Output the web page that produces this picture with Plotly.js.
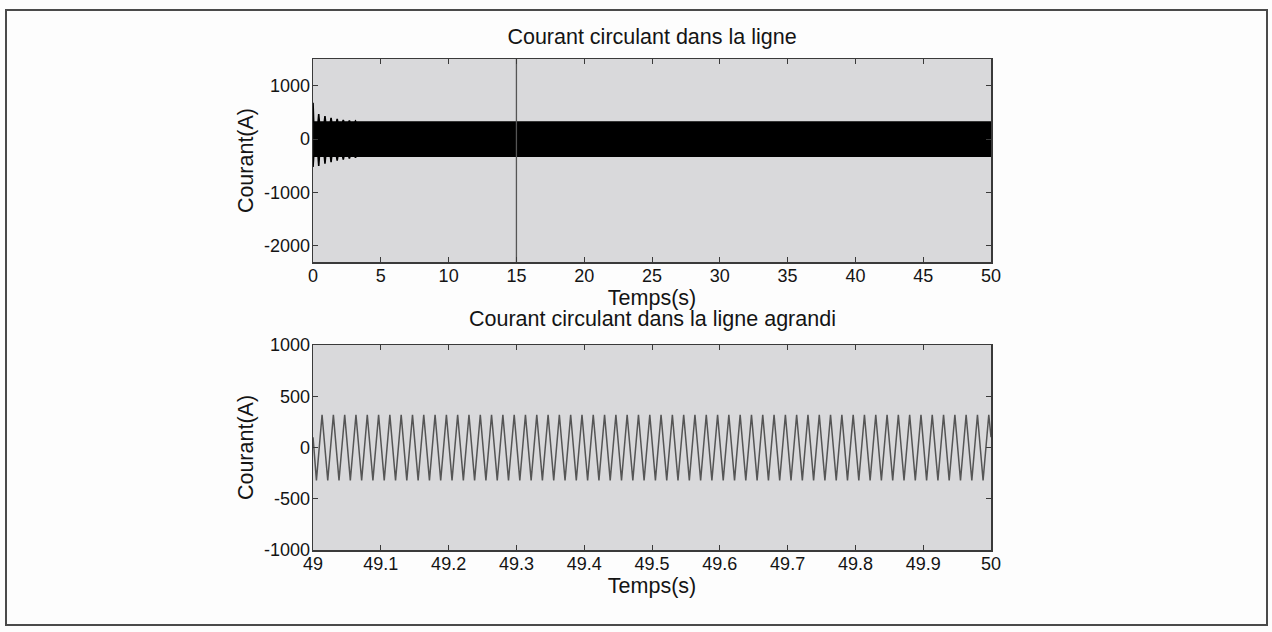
<!DOCTYPE html>
<html>
<head>
<meta charset="utf-8">
<script src="https://cdn.plot.ly/plotly-3.0.1.min.js"></script>
<style>body{margin:0;background:#fff;} #chart{width:1272px;height:632px;}</style>
</head>
<body>
<div id="chart"></div>
<script>
// ---- Top plot: envelope of the 60 Hz current over 0..50 s ----
var envT  = [0, 0.05, 0.37, 0.42, 0.47, 0.83, 0.88, 0.93, 1.28, 1.33, 1.38, 1.73, 1.78, 1.83, 2.18, 2.23, 2.28, 2.63, 2.68, 2.73, 3.08, 3.13, 3.18, 3.53, 3.58, 3.63, 50];
var envHi = [680, 320, 320, 470, 320, 320, 430, 320, 320, 400, 320, 320, 380, 320, 320, 360, 320, 320, 350, 320, 320, 340, 320, 320, 332, 320, 320];
var envLo = [-520, -320, -320, -500, -320, -320, -460, -320, -320, -430, -320, -320, -400, -320, -320, -380, -320, -320, -360, -320, -320, -345, -320, -320, -332, -320, -320];
// spike at t = 15 s (extends beyond the axis limits)
var spikeT = [15, 15];
var spikeI = [1700, -2500];

// ---- Bottom plot: zoom 49..50 s, extrema of the 60 Hz wave (time offsets in ms after 49 s) ----
var zoomMs = [0,
  5.0, 13.3, 21.7, 30.0, 38.3, 46.7, 55.0, 63.3, 71.7, 80.0, 88.3, 96.7,
  105.0, 113.3, 121.7, 130.0, 138.3, 146.7, 155.0, 163.3, 171.7, 180.0, 188.3, 196.7,
  205.0, 213.3, 221.7, 230.0, 238.3, 246.7, 255.0, 263.3, 271.7, 280.0, 288.3, 296.7,
  305.0, 313.3, 321.7, 330.0, 338.3, 346.7, 355.0, 363.3, 371.7, 380.0, 388.3, 396.7,
  405.0, 413.3, 421.7, 430.0, 438.3, 446.7, 455.0, 463.3, 471.7, 480.0, 488.3, 496.7,
  505.0, 513.3, 521.7, 530.0, 538.3, 546.7, 555.0, 563.3, 571.7, 580.0, 588.3, 596.7,
  605.0, 613.3, 621.7, 630.0, 638.3, 646.7, 655.0, 663.3, 671.7, 680.0, 688.3, 696.7,
  705.0, 713.3, 721.7, 730.0, 738.3, 746.7, 755.0, 763.3, 771.7, 780.0, 788.3, 796.7,
  805.0, 813.3, 821.7, 830.0, 838.3, 846.7, 855.0, 863.3, 871.7, 880.0, 888.3, 896.7,
  905.0, 913.3, 921.7, 930.0, 938.3, 946.7, 955.0, 963.3, 971.7, 980.0, 988.3, 996.7,
  1000];
var zoomI = [100,
  -320, 320, -320, 320, -320, 320, -320, 320, -320, 320, -320, 320,
  -320, 320, -320, 320, -320, 320, -320, 320, -320, 320, -320, 320,
  -320, 320, -320, 320, -320, 320, -320, 320, -320, 320, -320, 320,
  -320, 320, -320, 320, -320, 320, -320, 320, -320, 320, -320, 320,
  -320, 320, -320, 320, -320, 320, -320, 320, -320, 320, -320, 320,
  -320, 320, -320, 320, -320, 320, -320, 320, -320, 320, -320, 320,
  -320, 320, -320, 320, -320, 320, -320, 320, -320, 320, -320, 320,
  -320, 320, -320, 320, -320, 320, -320, 320, -320, 320, -320, 320,
  -320, 320, -320, 320, -320, 320, -320, 320, -320, 320, -320, 320,
  -320, 320, -320, 320, -320, 320, -320, 320, -320, 320, -320, 320,
  100];

// ---- Tick labels ----
var topXTicks = [0, 5, 10, 15, 20, 25, 30, 35, 40, 45, 50];
var topYTicks = [-2000, -1000, 0, 1000];
var topYLabels = ['-2000', '-1000', '0', '1000'];
var botXTicks = [49, 49.1, 49.2, 49.3, 49.4, 49.5, 49.6, 49.7, 49.8, 49.9, 50];
var botXLabels = ['49', '49.1', '49.2', '49.3', '49.4', '49.5', '49.6', '49.7', '49.8', '49.9', '50'];
var botYTicks = [-1000, -500, 0, 500, 1000];
var botYLabels = ['-1000', '-500', '0', '500', '1000'];

var titleTop = 'Courant circulant dans la ligne';
var titleBot = 'Courant circulant dans la ligne agrandi';
var xLabel = 'Temps(s)';
var yLabel = 'Courant(A)';

// build band polygon (upper envelope, then lower envelope reversed)
var bandX = envT.concat(envT.slice().reverse());
var bandY = envHi.concat(envLo.slice().reverse());
var zoomT = zoomMs.map(function (m) { return 49 + m / 1000; });

var FONT = 'Liberation Sans, Arial, Helvetica, sans-serif';
var INK = '#141414';
var AX = '#3a3a3a';
var TSIZE = 21.5;

var traces = [
  { x: bandX, y: bandY, xaxis: 'x', yaxis: 'y', mode: 'lines', fill: 'toself',
    fillcolor: '#000', line: { color: '#000', width: 1.6 }, hoverinfo: 'skip', showlegend: false },
  { x: spikeT, y: spikeI, xaxis: 'x', yaxis: 'y', mode: 'lines',
    line: { color: '#555555', width: 1.3 }, showlegend: false },
  { x: zoomT, y: zoomI, xaxis: 'x2', yaxis: 'y2', mode: 'lines',
    line: { color: '#555555', width: 1.5 }, showlegend: false }
];

function axisBase() {
  return {
    showline: true, linecolor: AX, linewidth: 1.5, mirror: 'ticks',
    ticks: 'inside', ticklen: 5, tickcolor: AX, tickwidth: 1,
    showgrid: false, zeroline: false, fixedrange: true,
    tickfont: { family: FONT, size: 18, color: INK }
  };
}

var xa = axisBase();
Object.assign(xa, { domain: [0.2461, 0.7791], range: [0, 50], tickvals: topXTicks, anchor: 'y', ticklabelstandoff: -3,
  title: { text: xLabel, font: { family: FONT, size: TSIZE, color: INK }, standoff: 0 } });
var ya = axisBase();
Object.assign(ya, { domain: [0.5854, 0.9066], range: [-2300, 1500], tickvals: topYTicks, ticktext: topYLabels, anchor: 'x', ticklabelstandoff: -2,
  title: { text: yLabel, font: { family: FONT, size: TSIZE, color: INK }, standoff: 4 } });
var xa2 = axisBase();
Object.assign(xa2, { domain: [0.2461, 0.7791], range: [49, 50], tickvals: botXTicks, ticktext: botXLabels, anchor: 'y2', ticklabelstandoff: -3,
  title: { text: xLabel, font: { family: FONT, size: TSIZE, color: INK }, standoff: 0 } });
var ya2 = axisBase();
Object.assign(ya2, { domain: [0.1297, 0.4541], range: [-1000, 1000], tickvals: botYTicks, ticktext: botYLabels, anchor: 'x2', ticklabelstandoff: -2,
  title: { text: yLabel, font: { family: FONT, size: TSIZE, color: INK }, standoff: 4 } });

var layout = {
  width: 1272, height: 632,
  margin: { l: 0, r: 0, t: 0, b: 0 },
  paper_bgcolor: '#fdfdfd',
  plot_bgcolor: '#d9d9db',
  showlegend: false,
  title: { text: titleTop, x: 0.5126, xanchor: 'center', y: 0.9415, yanchor: 'middle',
    xref: 'paper', yref: 'paper', font: { family: FONT, size: TSIZE, color: INK } },
  xaxis: xa, yaxis: ya, xaxis2: xa2, yaxis2: ya2,
  annotations: [
    { text: titleBot, xref: 'paper', yref: 'paper', x: 0.5126, y: 0.4952, xanchor: 'center', yanchor: 'middle',
      showarrow: false, font: { family: FONT, size: TSIZE, color: INK } }
  ],
  shapes: [
    { type: 'rect', xref: 'paper', yref: 'paper', x0: 6 / 1272, x1: 1267 / 1272, y0: 1 - 625 / 632, y1: 1 - 10 / 632,
      line: { color: '#4a4a4a', width: 2 }, fillcolor: 'rgba(0,0,0,0)', layer: 'below' }
  ]
};

Plotly.newPlot('chart', traces, layout, { displayModeBar: false, staticPlot: true });
</script>
</body>
</html>
